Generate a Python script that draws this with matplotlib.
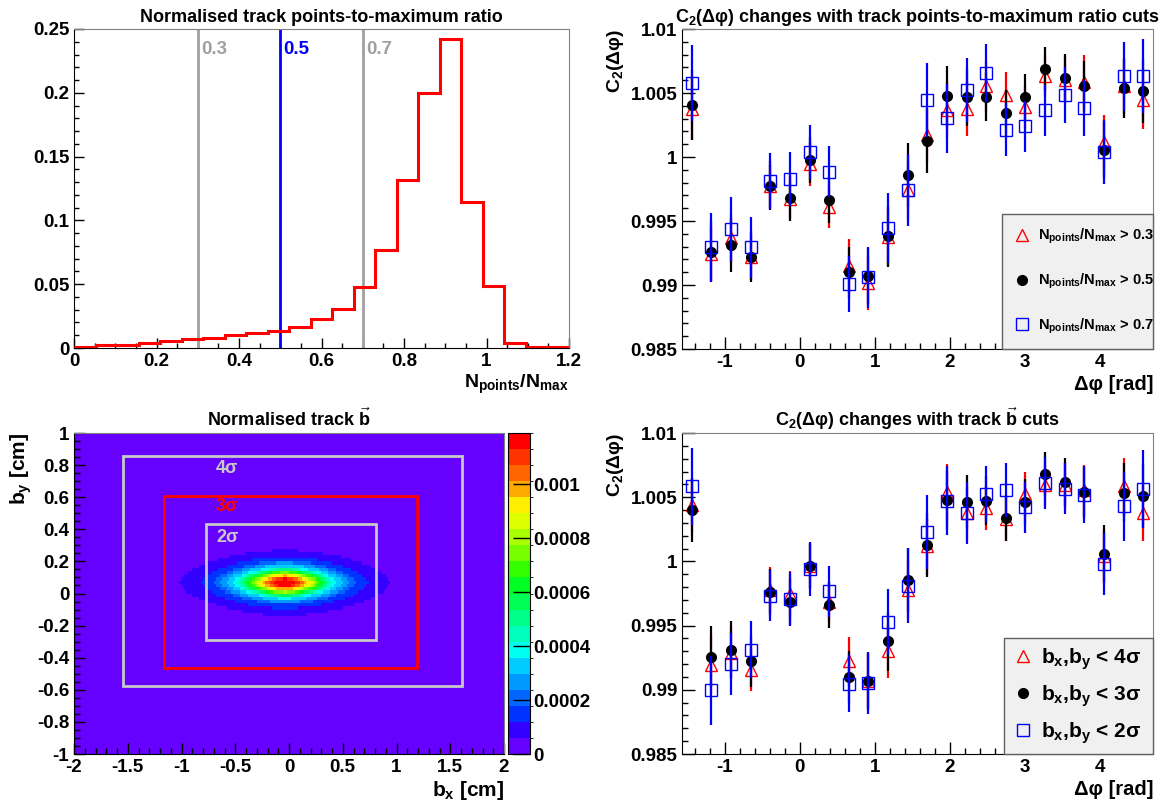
import numpy as np
import matplotlib
matplotlib.use("Agg")
import matplotlib.pyplot as plt
from matplotlib.colors import ListedColormap, BoundaryNorm
from matplotlib.patches import Rectangle
from matplotlib.ticker import MultipleLocator, FuncFormatter

plt.rcParams['font.family'] = ['Liberation Sans', 'DejaVu Sans']
plt.rcParams['font.weight'] = 'bold'
plt.rcParams['axes.labelweight'] = 'bold'
plt.rcParams['axes.titleweight'] = 'bold'
plt.rcParams['mathtext.fontset'] = 'custom'
plt.rcParams['mathtext.rm'] = 'Liberation Sans:bold'
plt.rcParams['mathtext.it'] = 'Liberation Sans:bold'
plt.rcParams['mathtext.bf'] = 'Liberation Sans:bold'
plt.rcParams['mathtext.sf'] = 'Liberation Sans:bold'

# --- track points-to-maximum ratio distribution (23 bins on [0, 1.2]) ---
ratio_edges = np.linspace(0.0, 1.2, 24)
ratio_frac = [0.0008, 0.002, 0.002, 0.0042, 0.0055, 0.007, 0.0078, 0.010,
              0.0115, 0.0136, 0.0167, 0.0228, 0.0306, 0.048, 0.077, 0.132,
              0.1995, 0.242, 0.1145, 0.0484, 0.004, 0.0008, 0.0005]
ratio_cuts = [0.3, 0.5, 0.7]
ratio_cut_colors = ['#a0a0a0', '#0000ff', '#a0a0a0']

# --- C2(dphi), 24 bins over [-pi/2, 3pi/2] ---
n_dphi = 24
dphi = -np.pi / 2 + (np.arange(n_dphi) + 0.5) * (2 * np.pi / n_dphi)

c2_pts03 = [1.00375, 0.99242, 0.99365, 0.99216, 0.99771, 0.99672, 0.99945, 0.99607,
            0.99146, 0.99016, 0.99372, 0.99740, 1.00172, 1.00370, 1.00375, 1.00552,
            1.00487, 1.00388, 1.00635, 1.00604, 1.00583, 1.00115, 1.00552, 1.00448]
c2_pts05 = [1.00406, 0.99260, 0.99313, 0.99221, 0.99776, 0.99682, 0.99977, 0.99664,
            0.99099, 0.99068, 0.99380, 0.99859, 1.00128, 1.00474, 1.00466, 1.00471,
            1.00341, 1.00466, 1.00688, 1.00617, 1.00552, 1.00057, 1.00536, 1.00513]
c2_pts07 = [1.00578, 0.99294, 0.99440, 0.99294, 0.99815, 0.99828, 1.00037, 0.99885,
            0.99008, 0.99060, 0.99445, 0.99740, 1.00445, 1.00302, 1.00521, 1.00656,
            1.00214, 1.00240, 1.00365, 1.00482, 1.00383, 1.00042, 1.00630, 1.00635]
err_pts03 = [0.0024, 0.0021, 0.0019, 0.0018, 0.0017, 0.0016, 0.0017, 0.0016,
             0.0021, 0.0021, 0.0022, 0.0023, 0.0021, 0.0022, 0.0021, 0.0020,
             0.0018, 0.0017, 0.0016, 0.0018, 0.0021, 0.0021, 0.0022, 0.0023]
err_pts05 = [0.0027, 0.0024, 0.0021, 0.0020, 0.0019, 0.0018, 0.0018, 0.0018,
             0.0020, 0.0022, 0.0024, 0.0025, 0.0025, 0.0024, 0.0022, 0.0019,
             0.0018, 0.0018, 0.0017, 0.0019, 0.0020, 0.0022, 0.0023, 0.0025]
err_pts07 = [0.0030, 0.0027, 0.0025, 0.0024, 0.0022, 0.0021, 0.0021, 0.0020,
             0.0022, 0.0024, 0.0027, 0.0028, 0.0029, 0.0027, 0.0025, 0.0023,
             0.0021, 0.0020, 0.0020, 0.0022, 0.0022, 0.0025, 0.0027, 0.0029]

c2_b4 = [1.00442, 0.99196, 0.99287, 0.99157, 0.99780, 0.99746, 0.99962, 0.99681,
         0.99222, 0.99066, 0.99300, 0.99780, 1.00117, 1.00538, 1.00377, 1.00416,
         1.00330, 1.00525, 1.00592, 1.00592, 1.00553, 1.00040, 1.00585, 1.00377]
c2_b3 = [1.00398, 0.99258, 0.99313, 0.99222, 0.99762, 0.99684, 0.99967, 0.99663,
         0.99100, 0.99066, 0.99378, 0.99858, 1.00125, 1.00476, 1.00463, 1.00473,
         1.00338, 1.00460, 1.00683, 1.00618, 1.00538, 1.00060, 1.00533, 1.00512]
c2_b2 = [1.00585, 0.98996, 0.99201, 0.99313, 0.99733, 0.99707, 0.99941, 0.99767,
         0.99048, 0.99053, 0.99528, 0.99811, 1.00229, 1.00473, 1.00377, 1.00525,
         1.00556, 1.00421, 1.00611, 1.00566, 1.00520, 0.99980, 1.00429, 1.00564]
err_b4 = [0.0021, 0.0023, 0.0020, 0.0017, 0.0018, 0.0018, 0.0017, 0.0016,
          0.0019, 0.0021, 0.0021, 0.0023, 0.0022, 0.0022, 0.0020, 0.0017,
          0.0017, 0.0017, 0.0016, 0.0018, 0.0020, 0.0021, 0.0022, 0.0022]
err_b3 = [0.0025, 0.0024, 0.0022, 0.0020, 0.0018, 0.0018, 0.0018, 0.0018,
          0.0020, 0.0022, 0.0023, 0.0025, 0.0025, 0.0023, 0.0021, 0.0019,
          0.0018, 0.0018, 0.0017, 0.0019, 0.0020, 0.0022, 0.0023, 0.0025]
err_b2 = [0.0030, 0.0027, 0.0024, 0.0022, 0.0020, 0.0021, 0.0021, 0.0020,
          0.0022, 0.0024, 0.0026, 0.0029, 0.0029, 0.0027, 0.0024, 0.0022,
          0.0021, 0.0020, 0.0020, 0.0020, 0.0022, 0.0024, 0.0027, 0.0030]

# --- impact parameter map: lens-shaped core profile ---
blob_x0, blob_y0 = -0.04, 0.068
blob_aspect = 0.21
blob_pnorm = 1.7
blob_radius = [0.0, 0.11, 0.22, 0.32, 0.45, 0.69, 0.96, 1.05]
blob_level = [0.00118, 0.00113, 0.00092, 0.00067, 0.00038, 0.00014, 0.00007, 0.00002]
map_vmax = 0.00119
palette = ['#6600ff', '#3300ff', '#0033ff', '#0066ff', '#0099ff', '#00ccff',
           '#00ffee', '#00ffbb', '#00ff88', '#00ff55', '#00ff22', '#33ff00',
           '#77ff00', '#aaff00', '#ddff00', '#ffee00', '#ffaa00', '#ff6600',
           '#ff3300', '#ff0000']

# sigma cut boxes: (label, x_lo, x_hi, y_lo, y_hi, colour)
sigma_boxes = [('4σ', -1.542, 1.605, -0.576, 0.859, '#c8c8c8'),
               ('3σ', -1.161, 1.192, -0.466, 0.609, '#ff0000'),
               ('2σ', -0.776, 0.808, -0.289, 0.432, '#c8c8c8')]
sigma_label_y = [0.78, 0.54, 0.35]

gfmt = FuncFormatter(lambda v, p: '%g' % round(v, 6))
TICK_SIZE = 13.5


def root_axes(ax, major=8, minor=4):
    ax.tick_params(which='both', direction='in', top=False, right=False,
                   labelsize=TICK_SIZE, width=1)
    ax.tick_params(which='major', length=major)
    ax.tick_params(which='minor', length=minor)
    for side in ('top', 'right'):
        ax.spines[side].set_color('#808080')
    ax.xaxis.set_major_formatter(gfmt)
    ax.yaxis.set_major_formatter(gfmt)


W, H = 1174, 805
fig = plt.figure(figsize=(W / 100, H / 100), dpi=100)


def px_axes(x0, y0, x1, y1):
    return fig.add_axes([x0 / W, 1 - y1 / H, (x1 - x0) / W, (y1 - y0) / H])


# ---------- top left: ratio histogram ----------
ax1 = px_axes(74, 29, 569, 348)
ax1.stairs(ratio_frac, ratio_edges, color='#ff0000', lw=2.2, baseline=None, zorder=3)
for cut, col in zip(ratio_cuts, ratio_cut_colors):
    ax1.axvline(cut, color=col, lw=2, zorder=2)
    ax1.text(cut + 0.008, 0.234, '%g' % cut, color=col, fontsize=13.5,
             fontweight='bold', va='center', ha='left')
ax1.set_xlim(0, 1.2)
ax1.set_ylim(0, 0.25)
ax1.xaxis.set_major_locator(MultipleLocator(0.2))
ax1.xaxis.set_minor_locator(MultipleLocator(0.05))
ax1.yaxis.set_major_locator(MultipleLocator(0.05))
ax1.yaxis.set_minor_locator(MultipleLocator(0.01))
root_axes(ax1, 7, 3.5)
ax1.set_title('Normalised track points-to-maximum ratio', fontsize=13,
              fontweight='bold', pad=5)
ax1.set_xlabel('N$_{points}$/N$_{max}$', fontsize=14, loc='right', labelpad=2)


def c2_panel(ax, series, labels, title, leg_box, leg_size, leg_spacing, leg_pad,
             text_pad):
    styles = [dict(marker='^', mfc='none', mec='#ff0000', ms=8.5, color='#ff0000'),
              dict(marker='o', mfc='black', mec='black', ms=7, color='black'),
              dict(marker='s', mfc='none', mec='#0000ff', ms=8, color='#0000ff')]
    handles = []
    for (vals, errs), st in zip(series, styles):
        ax.errorbar(dphi, vals, yerr=errs, fmt='none', ecolor=st['color'],
                    elinewidth=1.6, capsize=0)
        h, = ax.plot(dphi, vals, ls='none', marker=st['marker'], mfc=st['mfc'],
                     mec=st['mec'], ms=st['ms'], mew=1.0)
        handles.append(h)
    ax.set_xlim(-np.pi / 2, 3 * np.pi / 2)
    ax.set_ylim(0.985, 1.01)
    ax.xaxis.set_major_locator(MultipleLocator(1))
    ax.xaxis.set_minor_locator(MultipleLocator(0.2))
    ax.yaxis.set_major_locator(MultipleLocator(0.005))
    ax.yaxis.set_minor_locator(MultipleLocator(0.001))
    root_axes(ax, 9, 4.5)
    ax.set_title(title, fontsize=13, fontweight='bold', pad=5)
    ax.set_ylabel('C$_2$(Δφ)', fontsize=14, fontweight='bold', loc='top', labelpad=3)
    ax.set_xlabel('Δφ [rad]', fontsize=14.5, fontweight='bold', loc='right', labelpad=3)
    leg = ax.legend(handles, labels, loc='lower left', bbox_to_anchor=leg_box,
                    mode='expand', borderaxespad=0, fancybox=False, framealpha=1,
                    facecolor='#f0f0f0', edgecolor='#606060',
                    prop={'size': leg_size, 'weight': 'bold'},
                    labelspacing=leg_spacing, borderpad=leg_pad, handlelength=1.0,
                    handletextpad=text_pad)
    leg.get_frame().set_linewidth(1.0)


# ---------- top right: C2 with ratio cuts ----------
ax2 = px_axes(682, 29, 1153, 349)
c2_panel(ax2, [(c2_pts03, err_pts03), (c2_pts05, err_pts05), (c2_pts07, err_pts07)],
         ['N$_{points}$/N$_{max}$ > 0.3', 'N$_{points}$/N$_{max}$ > 0.5',
          'N$_{points}$/N$_{max}$ > 0.7'],
         'C$_2$(Δφ) changes with track points-to-maximum ratio cuts',
         (0.679, 0.0, 0.321, 0.425), 10.5, 1.75, 0.9, 0.6)

# ---------- bottom right: C2 with b cuts ----------
ax4 = px_axes(682, 433, 1153, 754)
c2_panel(ax4, [(c2_b4, err_b4), (c2_b3, err_b3), (c2_b2, err_b2)],
         ['b$_x$,b$_y$ < 4σ', 'b$_x$,b$_y$ < 3σ', 'b$_x$,b$_y$ < 2σ'],
         r'C$_2$(Δφ) changes with track $\vec{b}$ cuts',
         (0.684, 0.0, 0.316, 0.386), 15, 0.55, 0.4, 0.35)

# ---------- bottom left: normalised track b map ----------
ax3 = px_axes(74, 433, 504, 754)
bx_edges = np.linspace(-2, 2, 201)
by_edges = np.linspace(-1, 1, 101)
bx_c = 0.5 * (bx_edges[1:] + bx_edges[:-1])
by_c = 0.5 * (by_edges[1:] + by_edges[:-1])
gx, gy = np.meshgrid(bx_c, by_c)
rho = (np.abs(gx - blob_x0) ** blob_pnorm
       + np.abs((gy - blob_y0) / blob_aspect) ** blob_pnorm) ** (1 / blob_pnorm)
density = np.interp(rho, blob_radius, blob_level, right=blob_level[-1])

cmap = ListedColormap(palette)
norm = BoundaryNorm(np.linspace(0, map_vmax, len(palette) + 1), cmap.N)
mesh = ax3.pcolormesh(bx_edges, by_edges, density, cmap=cmap, norm=norm,
                      rasterized=True)
for (lab, xlo, xhi, ylo, yhi, col), ly in zip(sigma_boxes, sigma_label_y):
    ax3.add_patch(Rectangle((xlo, ylo), xhi - xlo, yhi - ylo, fill=False,
                            edgecolor=col, lw=2))
    ax3.text(-0.68, ly, lab, color=col, fontsize=13, fontweight='bold',
             va='center', ha='left')
ax3.set_xlim(-2, 2)
ax3.set_ylim(-1, 1)
ax3.xaxis.set_major_locator(MultipleLocator(0.5))
ax3.xaxis.set_minor_locator(MultipleLocator(0.1))
ax3.yaxis.set_major_locator(MultipleLocator(0.2))
ax3.yaxis.set_minor_locator(MultipleLocator(0.05))
root_axes(ax3, 8, 4)
ax3.set_title(r'Normalised track $\vec{b}$', fontsize=13, fontweight='bold', pad=5)
ax3.set_xlabel('b$_x$ [cm]', fontsize=15, fontweight='bold', loc='right', labelpad=2)
ax3.set_ylabel('b$_y$ [cm]', fontsize=15, fontweight='bold', loc='top', labelpad=2)

cax = px_axes(508, 433, 530, 754)
cb = fig.colorbar(mesh, cax=cax, ticks=[0, 0.0002, 0.0004, 0.0006, 0.0008, 0.001])
cb.ax.yaxis.set_major_formatter(gfmt)
cb.ax.tick_params(direction='in', length=12, width=1, labelsize=TICK_SIZE, pad=2)
cb.outline.set_linewidth(0.8)

# tick labels in bold, once the tick sets exist
fig.canvas.draw()
for a in (ax1, ax2, ax3, ax4, cb.ax):
    for lab in a.get_xticklabels() + a.get_yticklabels():
        lab.set_fontweight('bold')

fig.savefig('out.png', dpi=100)
